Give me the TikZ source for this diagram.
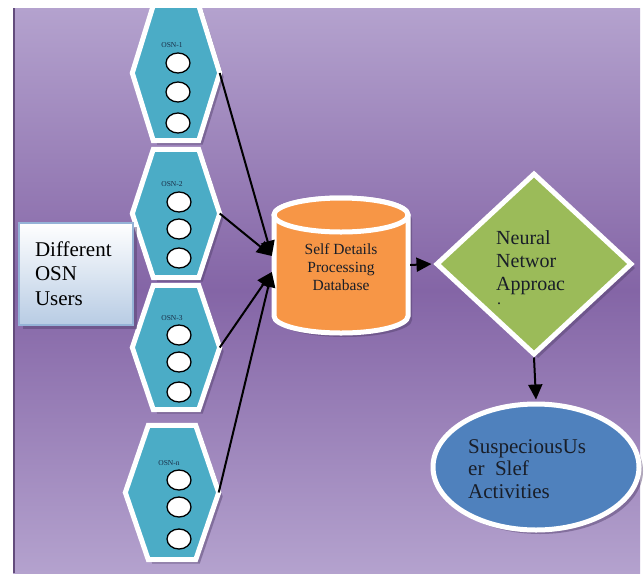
\documentclass[tikz,border=0pt]{standalone}
\usepackage{fontspec}
\setmainfont{Liberation Serif}
\usetikzlibrary{arrows.meta,shapes.geometric,shadows}
\definecolor{bgtop}{RGB}{180,162,206}
\definecolor{bgmid}{RGB}{132,101,166}
\definecolor{hexblue}{RGB}{75,172,198}
\definecolor{dborange}{RGB}{247,150,70}
\definecolor{nngreen}{RGB}{155,187,89}
\definecolor{ellblue}{RGB}{79,129,189}
\definecolor{shad}{RGB}{80,62,105}
\definecolor{boxborder}{RGB}{149,179,215}
\definecolor{boxblue}{RGB}{184,204,228}
\definecolor{labcol}{RGB}{25,45,70}
\definecolor{txtcol}{RGB}{25,30,40}
\newcommand\hexpath[2]{(#1.west) -- ([xshift=#2]#1.north west) -- ([xshift=-#2]#1.north east) -- (#1.east) -- ([xshift=-#2]#1.south east) -- ([xshift=#2]#1.south west) -- cycle}
\tikzset{
  hexbox/.style={rectangle, inner sep=0pt, minimum width=87},
  hexfill/.style={fill=hexblue, draw=white, line width=5pt, line join=miter,
    drop shadow={shadow xshift=4pt, shadow yshift=-4pt, opacity=.45, fill=shad}},
  dot/.style={ellipse, draw=black, line width=1.3pt, fill=white, minimum width=24, minimum height=20, inner sep=0pt},
  osnlab/.style={font=\fontsize{7.5}{8}\selectfont, text=labcol, inner sep=0pt},
  arr/.style={draw=black, line width=2pt, -{Triangle[length=15pt, width=14pt]}},
  bigshadow/.style={drop shadow={shadow xshift=4pt, shadow yshift=-4pt, opacity=.45, fill=shad}},
}
\begin{document}
\begin{tikzpicture}[x=1pt,y=-1pt]
\useasboundingbox (0,0) rectangle (644,573);
\fill[white] (0,0) rectangle (644,573);
\shade[top color=bgtop, bottom color=bgtop, middle color=bgmid] (13,8) rectangle (640,573);
\draw[bgmid!75!black, line width=2pt] (14,8) -- (14,573);

% hexagons
\node[hexbox, minimum height=135] (h1) at (176,73) {};
\node[hexbox, minimum height=128] (h2) at (176,213.5) {};
\node[hexbox, minimum height=124] (h3) at (176,347.5) {};
\node[hexbox, minimum width=93, minimum height=134] (hn) at (172,492.5) {};
\path[hexfill] \hexpath{h1}{21};
\path[hexfill] \hexpath{h2}{21};
\path[hexfill] \hexpath{h3}{21};
\path[hexfill] \hexpath{hn}{23};

\node[osnlab] (l1) at (172,45) {OSN-1};
\node[dot] (c11) at (178,63) {};
\node[dot] (c12) at (178,92) {};
\node[dot] (c13) at (178,123) {};

\node[osnlab] (l2) at (172,184) {OSN-2};
\node[dot] (c21) at (179,202) {};
\node[dot] (c22) at (179,229) {};
\node[dot] (c23) at (179,258) {};

\node[osnlab] (l3) at (172,318) {OSN-3};
\node[dot] (c31) at (179,335) {};
\node[dot] (c32) at (179,362) {};
\node[dot] (c33) at (179,392) {};

\node[osnlab] (ln) at (169,463) {OSN-n};
\node[dot] (cn1) at (179,480) {};
\node[dot] (cn2) at (179,507) {};
\node[dot] (cn3) at (179,539) {};

% users box
\node[draw=boxborder, line width=2pt, top color=white, bottom color=boxblue,
      minimum width=114, minimum height=102, inner xsep=16pt, text width=82, align=left,
      font=\fontsize{21}{24.5}\selectfont, text=black, bigshadow] (users) at (76,273.5)
      {Different\\OSN\\Users};

% database cylinder
\path[fill=dborange, draw=white, line width=5pt, bigshadow]
  (274,215) -- (274,316) arc[start angle=180, end angle=0, x radius=67, y radius=17]
  -- (408,215) arc[start angle=0, end angle=-180, x radius=67, y radius=17] -- cycle;
\path[fill=dborange, draw=white, line width=5pt] (341,215) ellipse[x radius=67, y radius=17];
\node[minimum width=138, minimum height=140, inner sep=0pt, align=center,
      font=\fontsize{15.5}{18}\selectfont, text=txtcol] (db) at (341,265)
      {\\[-3pt]Self Details\\Processing\\Database};

% diamond
\node[diamond, minimum width=196, minimum height=182, inner sep=0pt, fill=nngreen,
      draw=white, line width=5pt, bigshadow] (nn) at (534,264) {};
\node[anchor=north west, align=left, inner sep=0pt, font=\fontsize{20}{23}\selectfont,
      text=txtcol] (nntext) at (496,230) {Neural\\Networ\\Approac};
\node[anchor=base, inner sep=0pt, font=\fontsize{16}{18}\selectfont, text=txtcol] (nndot) at (499,304) {.};

% ellipse
\node[ellipse, minimum width=206, minimum height=126, inner sep=0pt, fill=ellblue,
      draw=white, line width=5pt, bigshadow] (sus) at (536,467) {};
\node[anchor=west, align=left, inner sep=0pt, font=\fontsize{21}{22.5}\selectfont,
      text=txtcol] (sustext) at (468,469) {SuspeciousUs\\er\ \ Slef\\Activities};

% connectors
\draw[arr] (h1.east) -- ([yshift=9pt]db.west);
\draw[arr] (h2.east) -- ([yshift=9pt]db.west);
\draw[arr] (h3.east) -- ([yshift=-7pt]db.west);
\draw[arr] (hn.east) -- ([yshift=-7pt]db.west);
\draw[arr] (db.east) -- ([xshift=-2pt]nn.west);
\draw[arr] (nn.south) -- ([yshift=2pt]sus.north);
\end{tikzpicture}
\end{document}
